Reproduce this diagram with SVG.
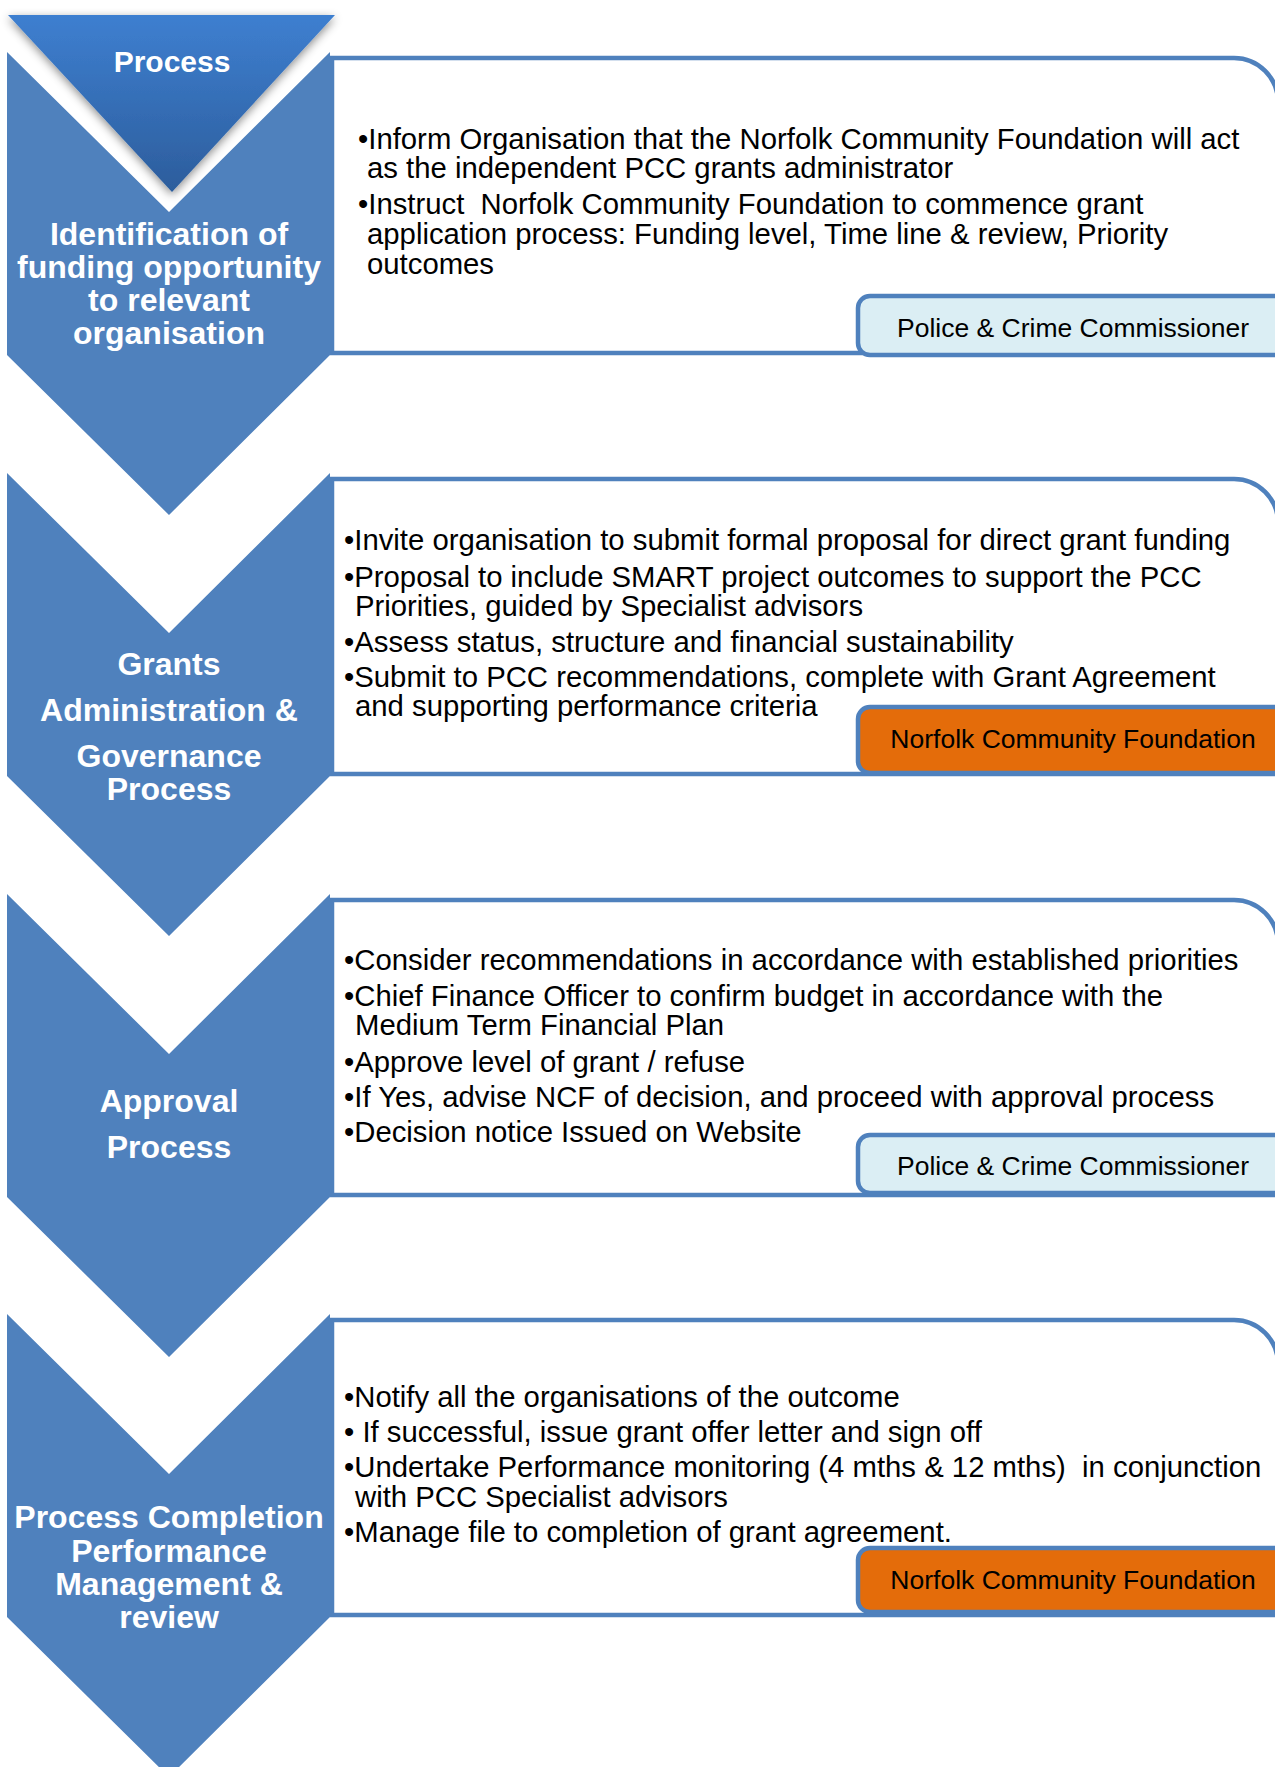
<svg xmlns="http://www.w3.org/2000/svg" width="1275" height="1767" viewBox="0 0 1275 1767">
<defs>
<linearGradient id="triGrad" x1="0" y1="0" x2="0" y2="1">
<stop offset="0" stop-color="#3E7FD0"/>
<stop offset="1" stop-color="#2C5D9C"/>
</linearGradient>
<filter id="shadow" x="-20%" y="-20%" width="140%" height="150%">
<feDropShadow dx="0" dy="3" stdDeviation="5" flood-color="#000" flood-opacity="0.45"/>
</filter>
<style>
.chev{fill:#4F81BD;}
.box{fill:#FFFFFF;stroke:#4F81BD;stroke-width:4.5;}
.tag{stroke:#4F81BD;stroke-width:4.5;}
.tagPcc{fill:#DBEEF4;}
.tagNcf{fill:#E46C0A;}
.title{font-family:"Liberation Sans",Arial,sans-serif;font-weight:bold;font-size:32px;fill:#FFFFFF;text-anchor:middle;}
.body{font-family:"Liberation Sans",Arial,sans-serif;font-size:29.3px;fill:#000000;white-space:pre;}
.tagText{font-family:"Liberation Sans",Arial,sans-serif;font-size:26.5px;fill:#000000;text-anchor:middle;}
</style>
</defs>
<rect width="1275" height="1767" fill="#FFFFFF"/>

<g id="connectors"></g>

<g id="step1">
<path class="box" d="M332,353 L332,58 L1234,58 A44,44 0 0 1 1278,102 L1278,353 Z"/>
<path class="chev" d="M7,52 L169,212 L330,52 L330,355 L169,515 L7,355 Z"/>
<text class="title" x="169" y="245">Identification of</text>
<text class="title" x="169" y="278">funding opportunity</text>
<text class="title" x="169" y="311">to relevant</text>
<text class="title" x="169" y="344">organisation</text>
<text class="body" xml:space="preserve"><tspan x="358" y="149">•Inform Organisation that the Norfolk Community Foundation will act</tspan><tspan x="367" y="178">as the independent PCC grants administrator</tspan><tspan x="358" y="214">•Instruct  Norfolk Community Foundation to commence grant</tspan><tspan x="367" y="244">application process: Funding level, Time line &amp; review, Priority</tspan><tspan x="367" y="274">outcomes</tspan></text>
<rect class="tag tagPcc" x="858" y="296" width="440" height="59" rx="12"/>
<text class="tagText" x="1073" y="337">Police &amp; Crime Commissioner</text>
</g>

<g id="header">
<polygon points="8,15 335,15 172,192" fill="url(#triGrad)" filter="url(#shadow)"/>
<text class="title" x="172" y="72" style="font-size:30px">Process</text>
</g>

<g id="step2">
<path class="box" d="M332,774 L332,479 L1234,479 A44,44 0 0 1 1278,523 L1278,774 Z"/>
<path class="chev" d="M7,473 L169,633 L330,473 L330,776 L169,936 L7,776 Z"/>
<text class="title" x="169" y="675">Grants</text>
<text class="title" x="169" y="721">Administration &amp;</text>
<text class="title" x="169" y="767">Governance</text>
<text class="title" x="169" y="800">Process</text>
<text class="body" xml:space="preserve"><tspan x="344" y="550">•Invite organisation to submit formal proposal for direct grant funding</tspan><tspan x="344" y="587">•Proposal to include SMART project outcomes to support the PCC</tspan><tspan x="355" y="616">Priorities, guided by Specialist advisors</tspan><tspan x="344" y="652">•Assess status, structure and financial sustainability</tspan><tspan x="344" y="687">•Submit to PCC recommendations, complete with Grant Agreement</tspan><tspan x="355" y="716">and supporting performance criteria</tspan></text>
<rect class="tag tagNcf" x="858" y="707" width="440" height="66" rx="12"/>
<text class="tagText" x="1073" y="748">Norfolk Community Foundation</text>
</g>

<g id="step3">
<path class="box" d="M332,1195 L332,900 L1234,900 A44,44 0 0 1 1278,944 L1278,1195 Z"/>
<path class="chev" d="M7,894 L169,1054 L330,894 L330,1197 L169,1357 L7,1197 Z"/>
<text class="title" x="169" y="1112">Approval</text>
<text class="title" x="169" y="1158">Process</text>
<text class="body" xml:space="preserve"><tspan x="344" y="970">•Consider recommendations in accordance with established priorities</tspan><tspan x="344" y="1006">•Chief Finance Officer to confirm budget in accordance with the</tspan><tspan x="355" y="1035">Medium Term Financial Plan</tspan><tspan x="344" y="1072">•Approve level of grant / refuse</tspan><tspan x="344" y="1107">•If Yes, advise NCF of decision, and proceed with approval process</tspan><tspan x="344" y="1142">•Decision notice Issued on Website</tspan></text>
<rect class="tag tagPcc" x="858" y="1135" width="440" height="58" rx="12"/>
<text class="tagText" x="1073" y="1175">Police &amp; Crime Commissioner</text>
</g>

<g id="step4">
<path class="box" d="M332,1615 L332,1320 L1234,1320 A44,44 0 0 1 1278,1364 L1278,1615 Z"/>
<path class="chev" d="M7,1314 L169,1474 L330,1314 L330,1617 L169,1777 L7,1617 Z"/>
<text class="title" x="169" y="1528">Process Completion</text>
<text class="title" x="169" y="1562">Performance</text>
<text class="title" x="169" y="1595">Management &amp;</text>
<text class="title" x="169" y="1628">review</text>
<text class="body" xml:space="preserve"><tspan x="344" y="1407">•Notify all the organisations of the outcome</tspan><tspan x="344" y="1442">• If successful, issue grant offer letter and sign off</tspan><tspan x="344" y="1477">•Undertake Performance monitoring (4 mths &amp; 12 mths)  in conjunction</tspan><tspan x="355" y="1507">with PCC Specialist advisors</tspan><tspan x="344" y="1542">•Manage file to completion of grant agreement.</tspan></text>
<rect class="tag tagNcf" x="858" y="1548" width="440" height="64" rx="12"/>
<text class="tagText" x="1073" y="1589">Norfolk Community Foundation</text>
</g>
</svg>
